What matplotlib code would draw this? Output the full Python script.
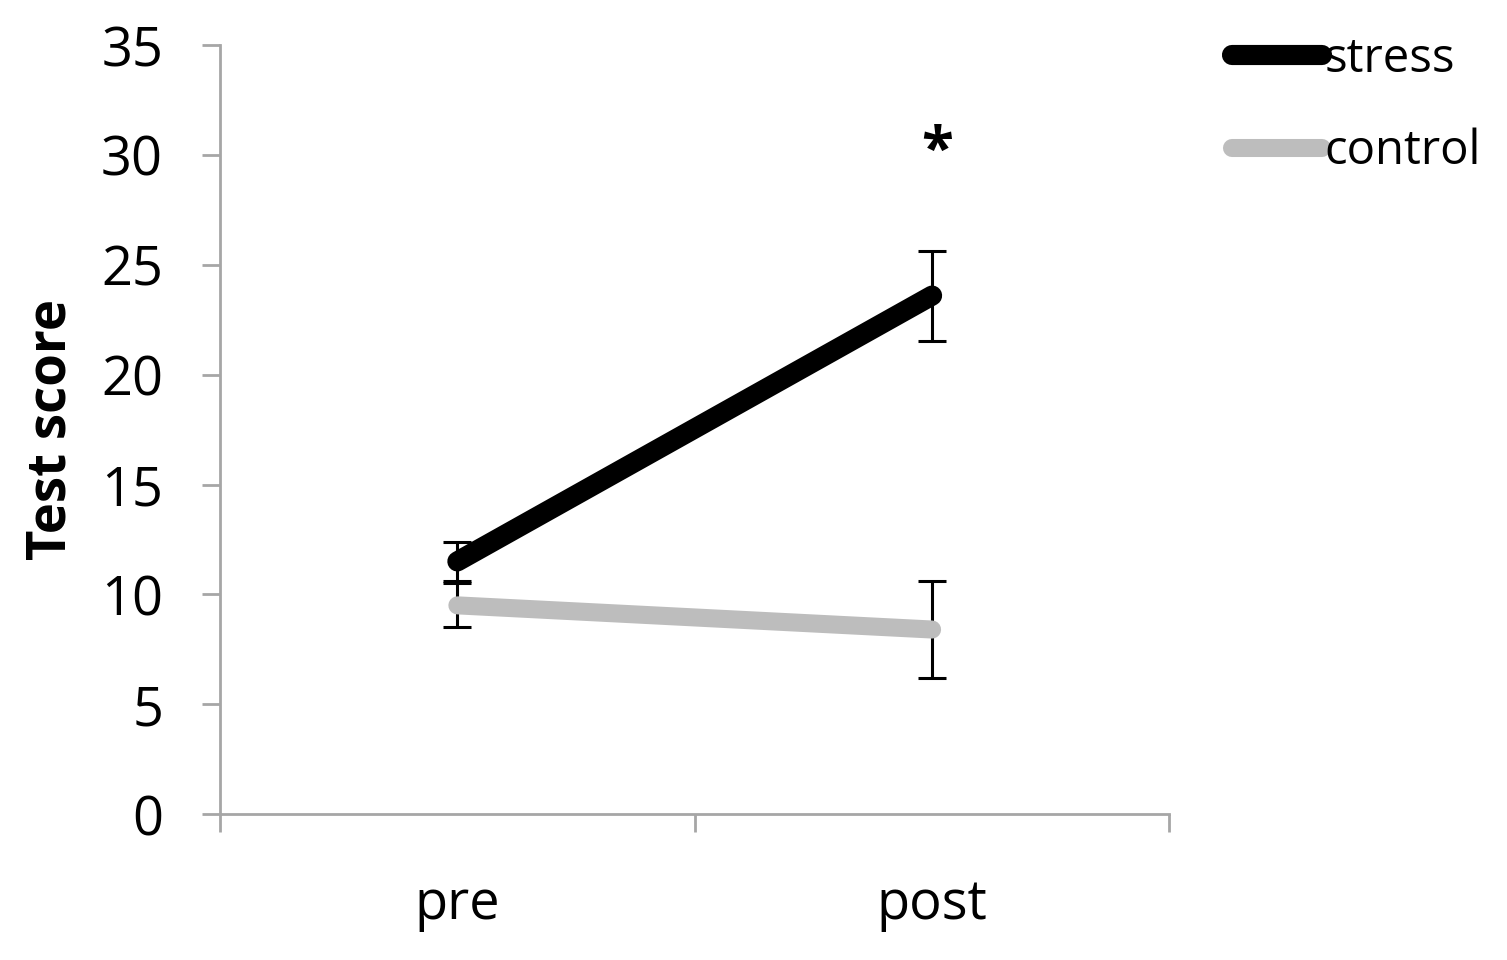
import matplotlib
matplotlib.use("Agg")
import matplotlib.pyplot as plt

plt.rcParams['font.family'] = ['Open Sans', 'DejaVu Sans']

categories = ["pre", "post"]
stress_mean = [11.5, 23.6]
stress_err = [0.9, 2.05]
control_mean = [9.5, 8.4]
control_err = [1.0, 2.2]
y_ticks = [0, 5, 10, 15, 20, 25, 30, 35]
series_names = ["stress", "control"]

fig = plt.figure(figsize=(15.07, 9.6), dpi=100)
ax = fig.add_axes([0.146, 0.152, 0.630, 0.801])

xpos = [0.5, 1.5]
spine_col = "#a6a6a6"

ax.errorbar(xpos, stress_mean, yerr=stress_err, fmt='none', ecolor='black',
            elinewidth=2.2, capsize=10, capthick=2.2, zorder=2)
ax.errorbar(xpos, control_mean, yerr=control_err, fmt='none', ecolor='black',
            elinewidth=2.2, capsize=10, capthick=2.2, zorder=2)
l1, = ax.plot(xpos, stress_mean, color='black', lw=14.5, solid_capstyle='round',
              label=series_names[0], zorder=3)
l2, = ax.plot(xpos, control_mean, color='#bdbdbd', lw=13, solid_capstyle='round',
              label=series_names[1], zorder=3)

ax.set_xlim(0, 2)
ax.set_ylim(0, 35)
ax.set_yticks(y_ticks)
ax.set_yticklabels([str(v) for v in y_ticks], fontsize=39)
ax.set_xticks([0, 1, 2])
ax.set_xticklabels([])
ax.set_xticks(xpos, minor=True)
ax.set_xticklabels(categories, minor=True, fontsize=39)
ax.tick_params(axis='x', which='minor', length=0, pad=45)
ax.tick_params(axis='x', which='major', length=13, width=2, color=spine_col, direction='out')
ax.tick_params(axis='y', which='major', length=13, width=2, color=spine_col, direction='out', pad=28)

for s in ['top', 'right']:
    ax.spines[s].set_visible(False)
for s in ['left', 'bottom']:
    ax.spines[s].set_color(spine_col)
    ax.spines[s].set_linewidth(2)

ax.set_ylabel("Test score", fontsize=38, fontweight='bold', labelpad=16)

ax.text(1.51, 30.1, "*", fontsize=42, fontweight='bold', ha='center', va='center')

leg = fig.legend(handles=[l1, l2], loc='upper left', bbox_to_anchor=(0.805, 0.983),
                 frameon=False, fontsize=34, handlelength=1.9, handletextpad=0.05,
                 labelspacing=0.95, borderaxespad=0)

fig.savefig("out.png", dpi=100)
